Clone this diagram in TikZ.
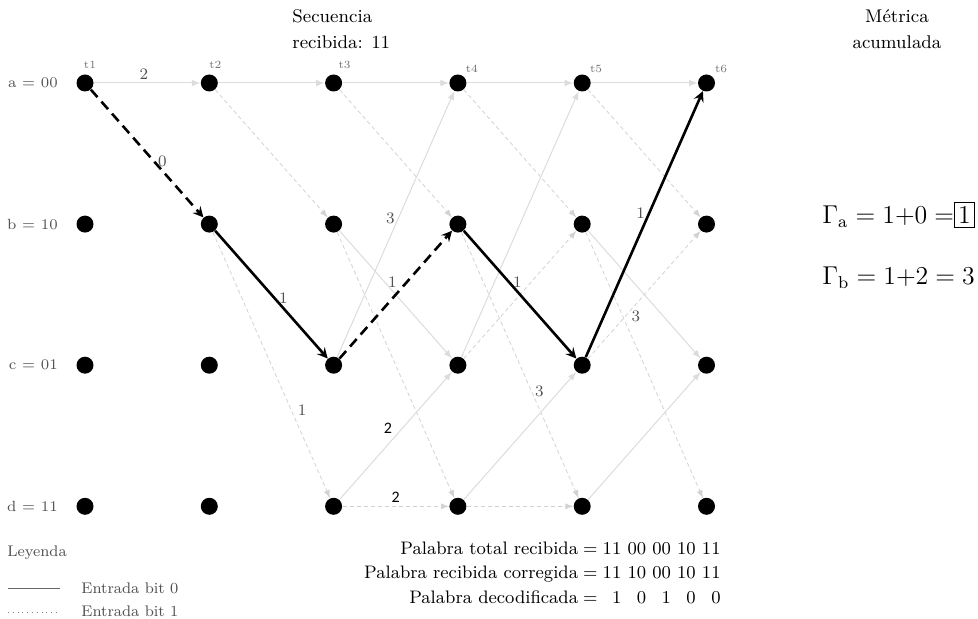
\documentclass[tikz,border=0pt]{standalone}
\usepackage{tikz}
\usepackage{xcolor}
\usepackage{fontspec}
\newfontfamily\calibrifont{Carlito}
\usetikzlibrary{positioning}
\definecolor{trellisGray}{HTML}{DCDCDC}
\definecolor{trellisDash}{HTML}{D2D2D2}
\definecolor{labelGray}{HTML}{505050}
\tikzstyle{state} = [circle, fill=black, minimum size=8.5pt, inner sep=0pt]
\tikzstyle{bitzero} = [->, >=latex, draw=trellisGray, line width=0.5pt]
\tikzstyle{bitone} = [->, >=latex, draw=trellisDash, line width=0.4pt, dash pattern=on 2pt off 1.5pt]
\tikzstyle{pathzero} = [->, >=stealth, line width=1.3pt]
\tikzstyle{pathone} = [->, >=stealth, line width=1.3pt, dash pattern=on 5pt off 3pt]
\tikzstyle{weight} = [font=\fontsize{8}{9}\selectfont, text=labelGray, inner sep=1.5pt]
\tikzstyle{sansweight} = [font=\calibrifont\fontsize{8}{9}\selectfont, text=black, inner sep=1.5pt]
\tikzstyle{statename} = [font=\fontsize{7.4}{9}\selectfont, text=labelGray, inner sep=0pt]
\tikzstyle{timestep} = [font=\fontsize{5.5}{6}\selectfont, text=black!55, inner sep=0.5pt]
\tikzstyle{caption} = [font=\fontsize{9.2}{13}\selectfont, inner sep=0pt]
\tikzstyle{metricline} = [anchor=west, inner sep=0pt, font=\fontsize{12}{14}\selectfont, scale=1.075, transform shape]
\tikzstyle{legend} = [font=\fontsize{7.7}{9}\selectfont, text=labelGray, inner sep=0pt]

\begin{document}
\begin{tikzpicture}[x=0.5pt, y=-0.5pt, node distance=62.15pt]
\useasboundingbox (0,0) rectangle (978,619);

\node (a1) [state, label={[timestep, xshift=2.5pt, yshift=2pt]above:t1}] at (85,83) {};
\node (b1) [state] at (85,224.1) {};
\node (c1) [state] at (85,365.2) {};
\node (d1) [state] at (85,506.3) {};
\node (a2) [state, right of=a1, label={[timestep, xshift=3pt, yshift=2pt]above:t2}] {};
\node (b2) [state, right of=b1] {};
\node (c2) [state, right of=c1] {};
\node (d2) [state, right of=d1] {};
\node (a3) [state, right of=a2, label={[timestep, xshift=5.5pt, yshift=2pt]above:t3}] {};
\node (b3) [state, right of=b2] {};
\node (c3) [state, right of=c2] {};
\node (d3) [state, right of=d2] {};
\node (a4) [state, right of=a3, label={[timestep, xshift=7pt]above:t4}] {};
\node (b4) [state, right of=b3] {};
\node (c4) [state, right of=c3] {};
\node (d4) [state, right of=d3] {};
\node (a5) [state, right of=a4, label={[timestep, xshift=7pt]above:t5}] {};
\node (b5) [state, right of=b4] {};
\node (c5) [state, right of=c4] {};
\node (d5) [state, right of=d4] {};
\node (a6) [state, right of=a5, label={[timestep, xshift=7.3pt]above:t6}] {};
\node (b6) [state, right of=b5] {};
\node (c6) [state, right of=c5] {};
\node (d6) [state, right of=d5] {};

\node (namea) [statename, left=9pt of a1] {a = 00};
\node (nameb) [statename, left=9pt of b1] {b = 10};
\node (namec) [statename, left=9pt of c1] {c = 01};
\node (named) [statename, left=9pt of d1] {d = 11};

\node (sequence) [caption, align=left, anchor=west] at (292,29) {Secuencia\\recibida: 11};
\node (metric) [caption, align=center] at (897,29) {Métrica\\acumulada};
\node (gammaa) [metricline] at (822,215) {\setlength{\fboxsep}{1.5pt}$\Gamma_{\mathrm{a}} = 1{+}0 =$\fbox{1}};
\node (gammab) [metricline] at (822,278) {$\Gamma_{\mathrm{b}} = 1{+}2 = 3$};

\draw [bitzero] (a1) -- node[weight, pos=.47, above] {2} (a2);
\draw [bitzero] (a2) -- (a3);
\draw [bitone] (a2) -- (b3);
\draw [bitone] (b2) -- node[weight, pos=.67, right, inner sep=3pt] {1} (d3);
\draw [bitzero] (a3) -- (a4);
\draw [bitone] (a3) -- (b4);
\draw [bitzero] (b3) -- node[weight, pos=.4, right] {1} (c4);
\draw [bitone] (b3) -- (d4);
\draw [bitzero] (c3) -- node[weight, pos=.52, left] {3} (a4);
\draw [bitzero] (d3) -- node[sansweight, pos=.56, left, inner sep=5pt] {2} (c4);
\draw [bitone] (d3) -- node[sansweight, pos=.5, above] {2} (d4);
\draw [bitzero] (a4) -- (a5);
\draw [bitone] (a4) -- (b5);
\draw [bitone] (b4) -- node[weight, pos=.6, right] {3} (d5);
\draw [bitzero] (c4) -- (a5);
\draw [bitone] (c4) -- (b5);
\draw [bitzero] (d4) -- (c5);
\draw [bitone] (d4) -- (d5);
\draw [bitzero] (a5) -- (a6);
\draw [bitone] (a5) -- (b6);
\draw [bitzero] (b5) -- (c6);
\draw [bitone] (b5) -- (d6);
\draw [bitone] (c5) -- node[weight, pos=.33, right, inner sep=3pt] {3} (b6);
\draw [bitzero] (d5) -- (c6);

\draw [pathone] (a1) -- node[weight, pos=.56, right] {0} (b2);
\draw [pathzero] (b2) -- node[weight, pos=.53, right] {1} (c3);
\draw [pathone] (c3) -- (b4);
\draw [pathzero] (b4) -- node[weight, pos=.4, right] {1} (c5);
\draw [pathzero] (c5) -- node[weight, pos=.54, left] {1} (a6);

\node (words) [anchor=east, inner sep=0pt, font=\fontsize{9.05}{12.2}\selectfont] at (721,574) {%
\begin{tabular}{@{}r@{${}={}$}l@{}}
Palabra total recibida & 11 00 00 10 11\\
Palabra recibida corregida & 11 10 00 10 11\\
Palabra decodificada & \phantom{1}1 \phantom{0}0 \phantom{0}1 \phantom{1}0 \phantom{1}0
\end{tabular}};

\node (legend) [legend, anchor=west] at (7,553) {Leyenda};
\coordinate (zerostart) at (8,588);
\coordinate (zeroend) at (60,588);
\coordinate (onestart) at (8,612);
\coordinate (oneend) at (60,612);
\draw [black!60, line width=0.4pt] (zerostart) -- (zeroend);
\draw [black!50, dotted] (onestart) -- (oneend);
\node (legendzero) [legend, anchor=west] at (81,588) {Entrada bit 0};
\node (legendone) [legend, anchor=west] at (81,611) {Entrada bit 1};

\end{tikzpicture}
\end{document}
